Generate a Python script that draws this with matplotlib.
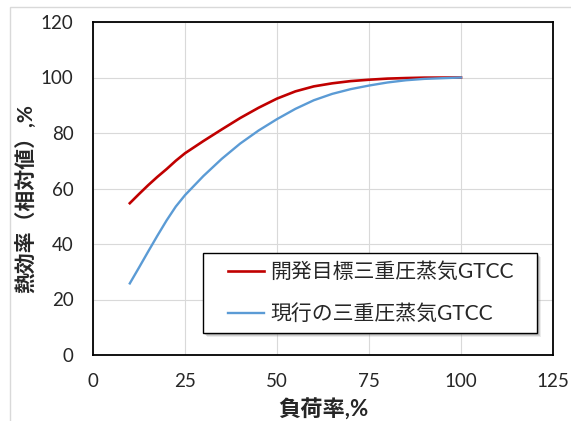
import matplotlib
matplotlib.use("Agg")
import matplotlib.pyplot as plt
from matplotlib.patches import Rectangle
from matplotlib import transforms

plt.rcParams['font.family'] = ['Lato', 'Noto Sans CJK JP', 'DejaVu Sans']

load = [10, 12.5, 15, 17.5, 20, 22.5, 25, 30, 35, 40, 45, 50, 55, 60, 65, 70, 75, 80, 85, 90, 100]
target_eff = [54.7, 58, 61.2, 64.2, 67, 70, 72.7, 77.1, 81.3, 85.4, 89.1, 92.4, 95.0, 96.8, 97.9, 98.7, 99.2, 99.6, 99.8, 99.95, 100]
current_eff = [25.8, 31.5, 37.3, 43, 48.5, 53.5, 57.6, 64.5, 70.7, 76.2, 80.9, 85.0, 88.7, 91.8, 94.1, 95.8, 97.1, 98.2, 99.0, 99.5, 100]
series_names = ['開発目標三重圧蒸気GTCC', '現行の三重圧蒸気GTCC']
x_ticks = [0, 25, 50, 75, 100, 125]
y_ticks = [0, 20, 40, 60, 80, 100, 120]

fig = plt.figure(figsize=(5.71, 4.21), dpi=100)
fig.patches.append(Rectangle((10/571, -0.1), 1.2, (421-7)/421 + 0.1, transform=fig.transFigure,
                             fill=False, edgecolor='#d9d9d9', linewidth=1))
ax = fig.add_axes([93/571, 66/421, 460/571, 333/421])

ax.plot(load, target_eff, color='#C00000', linewidth=1.9, label=series_names[0], zorder=3,
        solid_joinstyle='round')
ax.plot(load, current_eff, color='#5B9BD5', linewidth=1.7, label=series_names[1], zorder=3,
        solid_joinstyle='round')

ax.set_xlim(0, 125)
ax.set_ylim(0, 120)
ax.set_xticks(x_ticks)
ax.set_yticks(y_ticks)
ax.grid(True, color='#d9d9d9', linewidth=0.8)
ax.set_axisbelow(True)
for s in ax.spines.values():
    s.set_color('black')
    s.set_linewidth(1.3)
ax.tick_params(length=0, labelsize=13.5, colors='#262626', pad=13)
ax.tick_params(axis='y', pad=14)

ax.set_xlabel('負荷率,%', fontsize=16, fontweight='bold', color='#262626', labelpad=6)
ax.set_ylabel('熱効率（相対値）,%', fontsize=15, fontweight='bold', color='#262626')
ax.yaxis.set_label_coords(-0.124, 0.471)

# legend frame with soft shadow
x0, x1 = 0.239, 0.965
y0, y1 = 0.066, 0.306
for i, (off, alpha) in enumerate([(4, 0.15), (3, 0.25), (2, 0.3)]):
    tr = transforms.offset_copy(ax.transAxes, fig=fig, x=off*0.72, y=-off*0.72, units='points')
    ax.add_patch(Rectangle((x0, y0), x1 - x0, y1 - y0, transform=tr, facecolor='#7f7f7f',
                           edgecolor='none', alpha=alpha, zorder=4, clip_on=False))
ax.add_patch(Rectangle((x0, y0), x1 - x0, y1 - y0, transform=ax.transAxes, facecolor='white',
                       edgecolor='black', linewidth=1.0, zorder=5, clip_on=False))

leg = ax.legend(loc='center', bbox_to_anchor=((x0 + x1) / 2 + 0.002, (y0 + y1) / 2), fontsize=15,
                frameon=False, handlelength=1.75, handletextpad=0.3, borderpad=0.0,
                labelspacing=1.05, borderaxespad=0)
leg.set_zorder(6)
for t in leg.get_texts():
    t.set_color('#262626')

fig.savefig('out.png', dpi=100)
